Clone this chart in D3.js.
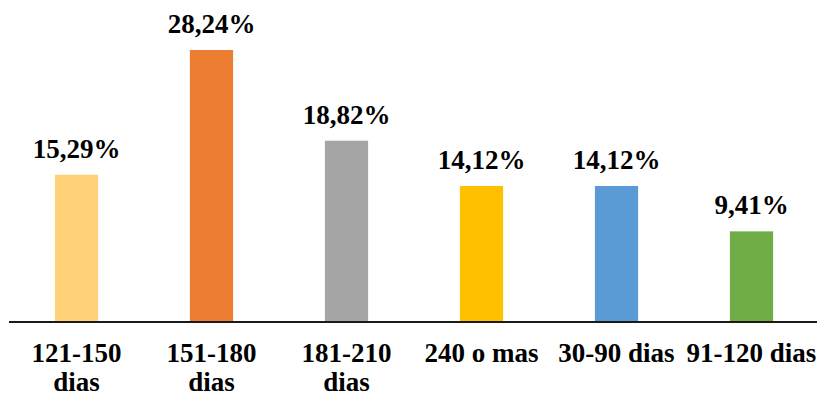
<!DOCTYPE html>
<html>
<head>
<meta charset="utf-8">
<script src="https://cdn.jsdelivr.net/npm/d3@7"></script>
<style>
  html, body { margin: 0; padding: 0; background: #fff; }
  svg { display: block; }
  text, tspan { font-family: "Liberation Serif", "Times New Roman", Times, "Nimbus Roman", "DejaVu Serif", serif !important; font-weight: bold; fill: #000; }
</style>
</head>
<body>
<svg id="chart" width="817" height="396"></svg>
<script>
// Categories and their shares (%)
const categories = ["121-150 dias", "151-180 dias", "181-210 dias", "240 o mas", "30-90 dias", "91-120 dias"];
const values = [15.29, 28.24, 18.82, 14.12, 14.12, 9.41];
const colors = ["#FFD27A", "#ED7D31", "#A5A5A5", "#FFC000", "#5B9BD5", "#70AD47"];
const yDomain = [0, 30];

const svg = d3.select("#chart");
const baseY = 322;

const x = d3.scaleBand()
  .domain(categories)
  .range([9, 819])
  .paddingInner(0.68)
  .paddingOuter(0.34);

const y = d3.scaleLinear()
  .domain(yDomain)
  .range([baseY, baseY - 30 * 9.632]);

const fmt = v => d3.format(".2f")(v).replace(".", ",") + "%";

// Bars
svg.append("g")
  .selectAll("rect")
  .data(values)
  .join("rect")
  .attr("x", (d, i) => x(categories[i]))
  .attr("y", d => y(d))
  .attr("width", x.bandwidth())
  .attr("height", d => y(0) - y(d))
  .attr("fill", (d, i) => colors[i]);

// Value labels
svg.append("g")
  .selectAll("text")
  .data(values)
  .join("text")
  .attr("x", (d, i) => x(categories[i]) + x.bandwidth() / 2)
  .attr("y", d => y(d) - 17)
  .attr("text-anchor", "middle")
  .style("font-size", "27px")
  .text(d => fmt(d));

// Category axis along the baseline
const axis = d3.axisBottom(x).tickSize(0).tickPadding(0);
const gAxis = svg.append("g")
  .attr("transform", `translate(0,${baseY})`)
  .call(axis)
  .attr("font-family", null);

gAxis.select(".domain")
  .attr("d", `M9,0H817`)
  .attr("stroke", "#1a1a1a")
  .attr("stroke-width", 2);

gAxis.selectAll(".tick text")
  .attr("y", 0)
  .attr("dy", 0)
  .style("font-size", "27px")
  .attr("fill", "#000")
  .each(function (d) {
    // wrap labels that are wider than one band step
    const t = d3.select(this);
    const words = d.split(" ");
    t.text(null);
    const step = x.step();
    let line = [];
    let lineNo = 0;
    let tspan = t.append("tspan").attr("x", 0).attr("y", 40);
    words.forEach(w => {
      line.push(w);
      tspan.text(line.join(" "));
      if (tspan.node().getComputedTextLength() > step && line.length > 1) {
        line.pop();
        tspan.text(line.join(" "));
        line = [w];
        lineNo++;
        tspan = t.append("tspan").attr("x", 0).attr("y", 40 + lineNo * 29).text(w);
      }
    });
  });
</script>
</body>
</html>
